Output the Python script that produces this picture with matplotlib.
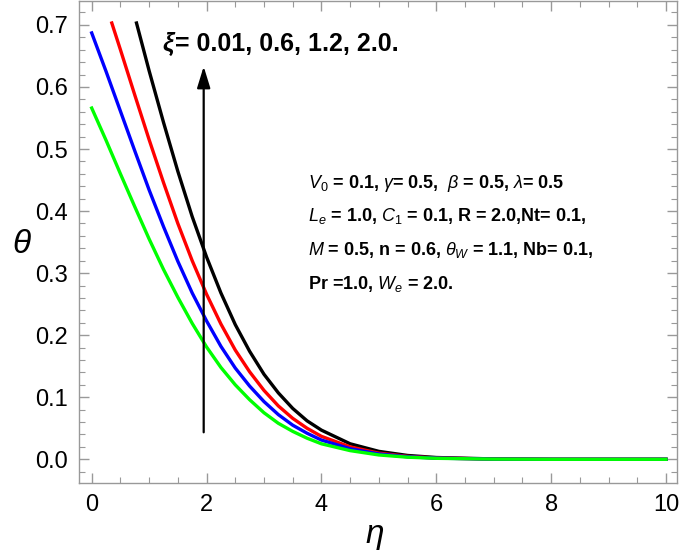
import matplotlib
matplotlib.use('agg')
import matplotlib.pyplot as plt
from matplotlib.ticker import MultipleLocator

plt.rcParams['font.family'] = ['Liberation Sans', 'DejaVu Sans']
plt.rcParams['mathtext.fontset'] = 'custom'
plt.rcParams['mathtext.rm'] = 'Liberation Sans'
plt.rcParams['mathtext.it'] = 'Liberation Sans:italic'
plt.rcParams['mathtext.bf'] = 'Liberation Sans:bold'

# theta(eta) for xi = 0.01, 0.6, 1.2, 2.0
eta_full = [0, 0.25, 0.5, 0.75, 1.0, 1.25, 1.5, 1.75, 2.0, 2.25, 2.5, 2.75, 3.0,
            3.25, 3.5, 3.75, 4.0, 4.5, 5.0, 5.5, 6.0, 7.0, 8.0, 9.0, 10.0]
theta_green = [0.566, 0.514, 0.460, 0.407, 0.355, 0.306, 0.261, 0.219, 0.181, 0.148,
               0.120, 0.096, 0.075, 0.058, 0.045, 0.034, 0.025, 0.014, 0.007, 0.0034,
               0.0016, 0.0003, 0.0, 0.0, 0.0]
theta_blue = [0.687, 0.625, 0.561, 0.497, 0.434, 0.375, 0.319, 0.268, 0.223, 0.182,
              0.147, 0.118, 0.093, 0.072, 0.055, 0.042, 0.031, 0.017, 0.0086, 0.0041,
              0.0019, 0.0003, 0.0, 0.0, 0.0]
eta_red = [0.35, 0.5, 0.75, 1.0, 1.25, 1.5, 1.75, 2.0, 2.25, 2.5, 2.75, 3.0, 3.25,
           3.5, 3.75, 4.0, 4.5, 5.0, 5.5, 6.0, 7.0, 8.0, 9.0, 10.0]
theta_red = [0.703, 0.660, 0.587, 0.515, 0.446, 0.380, 0.320, 0.266, 0.218, 0.176,
             0.141, 0.111, 0.086, 0.066, 0.050, 0.037, 0.020, 0.0099, 0.0047, 0.0021,
             0.0004, 0.0, 0.0, 0.0]
eta_black = [0.78, 1.0, 1.25, 1.5, 1.75, 2.0, 2.25, 2.5, 2.75, 3.0, 3.25, 3.5, 3.75,
             4.0, 4.5, 5.0, 5.5, 6.0, 7.0, 8.0, 9.0, 10.0]
theta_black = [0.703, 0.626, 0.543, 0.464, 0.391, 0.326, 0.268, 0.217, 0.174, 0.137,
               0.107, 0.082, 0.062, 0.047, 0.025, 0.0128, 0.0062, 0.0029, 0.0006, 0.0,
               0.0, 0.0]

W, H = 685, 555
fig = plt.figure(figsize=(W / 100, H / 100), dpi=100)
ax = fig.add_axes([79.3 / W, 1 - 482.7 / H, (677.3 - 79.3) / W, (482.7 - 1.3) / H])

lw = 2.4
ax.plot(eta_black, theta_black, color='black', lw=lw)
ax.plot(eta_red, theta_red, color='#ff0000', lw=lw)
ax.plot(eta_full, theta_blue, color='#0000ff', lw=lw)
ax.plot(eta_full, theta_green, color='#00ff00', lw=lw)

ax.set_xlim(-0.216, 10.197)
ax.set_ylim(-0.0377, 0.738)

frame = '#999999'
for s in ax.spines.values():
    s.set_color(frame)
    s.set_linewidth(1.0)
ax.xaxis.set_major_locator(MultipleLocator(2))
ax.xaxis.set_minor_locator(MultipleLocator(0.5))
ax.yaxis.set_major_locator(MultipleLocator(0.1))
ax.yaxis.set_minor_locator(MultipleLocator(0.02))
ax.tick_params(which='both', direction='in', top=True, right=True, color=frame,
               labelsize=17, labelcolor='black')
ax.tick_params(which='major', length=7, width=1.0, pad=8)
ax.tick_params(which='minor', length=4, width=0.8)
ax.yaxis.set_major_formatter(plt.FuncFormatter(lambda v, p: f'{v:.1f}'))
ax.xaxis.set_major_formatter(plt.FuncFormatter(lambda v, p: f'{v:.0f}'))

fig.text(375 / W, 1 - 537 / H, r'$\eta$', fontsize=24, ha='center', va='center')
fig.text(22 / W, 1 - 245 / H, r'$\theta$', fontsize=24, ha='center', va='center')

# arrow showing increasing xi
ax.annotate('', xy=(1.95, 0.633), xytext=(1.95, 0.0435),
            arrowprops=dict(arrowstyle='-|>,head_length=1.3,head_width=0.4',
                            color='black', lw=1.6, shrinkA=0, shrinkB=0))

def px(x, y):
    return x / W, 1 - y / H

fig.text(*px(162, 44), 'ξ', fontsize=18, fontweight='bold', style='italic',
         va='center', ha='left')
fig.text(*px(175, 44), '= 0.01, 0.6, 1.2, 2.0.', fontsize=18, fontweight='bold',
         va='center', ha='left')

params = [
    r'$V_0$ = 0.1, $\gamma$= 0.5,  $\beta$ = 0.5, $\lambda$= 0.5',
    r'$L_e$ = 1.0, $C_1$ = 0.1, R = 2.0,Nt= 0.1,',
    r'$M$ = 0.5, n = 0.6, $\theta_W$ = 1.1, Nb= 0.1,',
    r'Pr =1.0, $W_e$ = 2.0.',
]
for i, s in enumerate(params):
    fig.text(*px(308, 183 + 33.5 * i), s, fontsize=13, fontweight='bold',
             va='center', ha='left')

fig.savefig('out.png', dpi=100)
